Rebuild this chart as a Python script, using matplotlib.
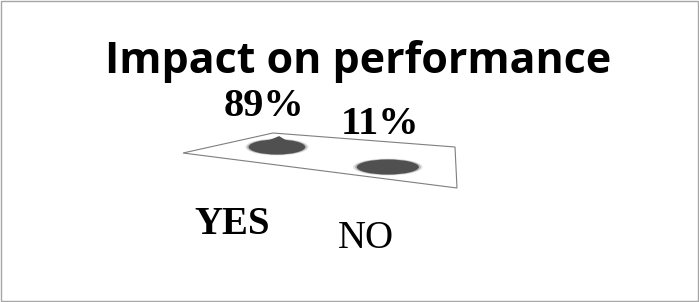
import matplotlib
matplotlib.use("Agg")
import matplotlib.pyplot as plt
from matplotlib.patches import Ellipse, Polygon, Rectangle
import numpy as np

categories = ["YES", "NO"]
values = [89, 11]
value_labels = ["89%", "11%"]

W, H = 699, 302
fig = plt.figure(figsize=(W / 100, H / 100), dpi=100)

# background layer in pixel space for the frame and the tilted floor
bg = fig.add_axes([0, 0, 1, 1])
bg.set_xlim(0, W)
bg.set_ylim(H, 0)
bg.axis("off")
bg.add_patch(Rectangle((0.5, 0.5), W - 1.5, H - 1.5, fill=False, ec="#a6a6a6", lw=1))
floor = [(183, 153), (273, 133), (455, 147), (457, 188)]
bg.add_patch(Polygon(floor, closed=True, fill=False, ec="#7f7f7f", lw=0.8))

bg.text(358, 73, "Impact on performance", ha="center", va="baseline",
        fontsize=31, fontweight="bold", family="Open Sans")

# chart axes: x in category units, y in (inverted) pixel depth
ax = fig.add_axes([182.65 / W, 0, (471 - 182.65) / W, 1])
ax.set_xlim(-0.85, 1.75)
ax.set_ylim(H, 0)
ax.axis("off")

x = np.arange(len(categories))
depth = 147 + 20 * x
widths = [0.51, 0.56]
for xi, yi, wi, v in zip(x, depth, widths, values):
    # soft edge
    for k, a in zip([1.12, 1.06, 1.0], [0.15, 0.3, 1.0]):
        ax.add_patch(Ellipse((xi, yi), wi * k, 15 * k, fc="#505050", ec="none", alpha=a))
    # small peak growing with the value
    peak = v * 0.1
    ax.add_patch(Polygon([(xi - wi * 0.35, yi - 2), (xi + 0.02, yi - 2 - peak),
                          (xi + wi * 0.3, yi - 2)], closed=True, fc="#505050", ec="none"))

for xi, yi, lab in zip(x, [107, 125], value_labels):
    ax.text(xi - 0.12 + 0.05 * xi, yi, lab, ha="center", va="center",
            fontsize=29, fontweight="bold", family="Liberation Serif")

for xi, yi, cat, wt in zip(x, [225, 238], categories, ["bold", "normal"]):
    ax.text(xi - 0.4 + 0.2 * xi, yi, cat, ha="center", va="center",
            fontsize=28, fontweight=wt, family="Liberation Serif")

fig.savefig("out.png", dpi=100)
